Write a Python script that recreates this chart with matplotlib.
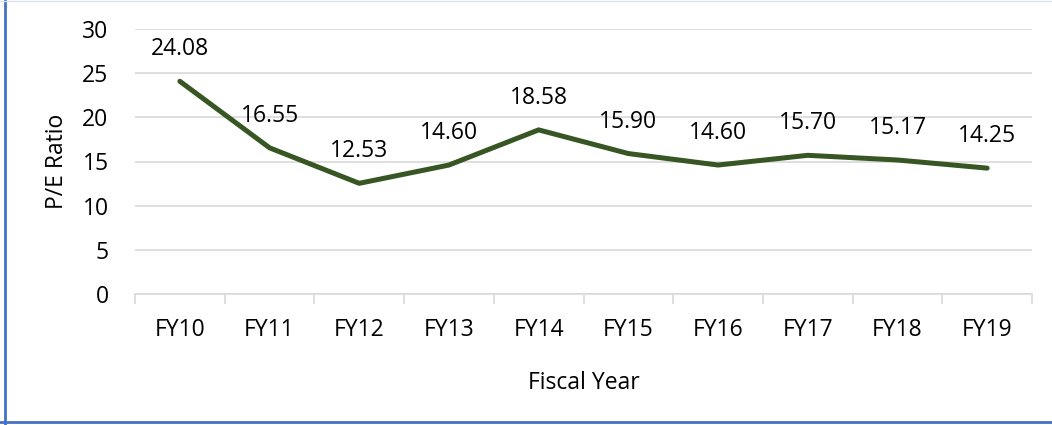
import matplotlib.pyplot as plt
from matplotlib.lines import Line2D

# Data
years = ['FY10', 'FY11', 'FY12', 'FY13', 'FY14', 'FY15', 'FY16', 'FY17', 'FY18', 'FY19']
pe_ratio = [24.08, 16.55, 12.53, 14.60, 18.58, 15.90, 14.60, 15.70, 15.17, 14.25]

plt.rcParams['font.family'] = ['Open Sans', 'DejaVu Sans']
fs = 16.5

fig = plt.figure(figsize=(10.52, 4.25), dpi=100)
ax = fig.add_axes([135 / 1052, 1 - 294 / 425, (1032 - 135) / 1052, (294 - 29) / 425])

x = list(range(len(years)))
ax.plot(x, pe_ratio, color='#375623', linewidth=3.6, solid_capstyle='round', zorder=3)

# Value labels above points
for i, v in enumerate(pe_ratio):
    ax.annotate(f'{v:.2f}', (i, v), xytext=(0, 23), textcoords='offset points',
                ha='center', va='center', fontsize=fs, color='black')

ax.set_xlim(-0.5, len(years) - 0.5)
ax.set_ylim(0, 30)
ax.set_yticks(range(0, 31, 5))
ax.yaxis.grid(True, color='#D9D9D9', linewidth=1.2)
ax.set_axisbelow(True)

# Category ticks between labels
ax.set_xticks([i - 0.5 for i in range(len(years) + 1)])
ax.set_xticklabels([])
ax.set_xticks(x, minor=True)
ax.set_xticklabels(years, minor=True, fontsize=fs)
ax.tick_params(axis='x', which='major', length=7, color='#D9D9D9', width=1.2)
ax.tick_params(axis='x', which='minor', length=0, pad=17)
ax.tick_params(axis='y', length=0, labelsize=fs, pad=19)

for s in ['top', 'right', 'left']:
    ax.spines[s].set_visible(False)
ax.spines['bottom'].set_color('#D9D9D9')
ax.spines['bottom'].set_linewidth(1.2)

ax.set_ylabel('P/E Ratio', fontsize=fs, va='center')
ax.yaxis.set_label_coords((57 - 135) / 897, 0.5)
ax.set_xlabel('Fiscal Year', fontsize=fs, va='center')
ax.xaxis.set_label_coords(0.5, (294 - 383) / 265)

# Chart border (blue left/bottom, faint top)
fig.add_artist(Line2D([5 / 1052, 5 / 1052], [0, 1], color='#4472C4', linewidth=2))
fig.add_artist(Line2D([0, 1], [3 / 425, 3 / 425], color='#4472C4', linewidth=2))
fig.add_artist(Line2D([0, 1], [1 - 1 / 425, 1 - 1 / 425], color='#DAE3F3', linewidth=1))

fig.savefig('out.png', dpi=100)
